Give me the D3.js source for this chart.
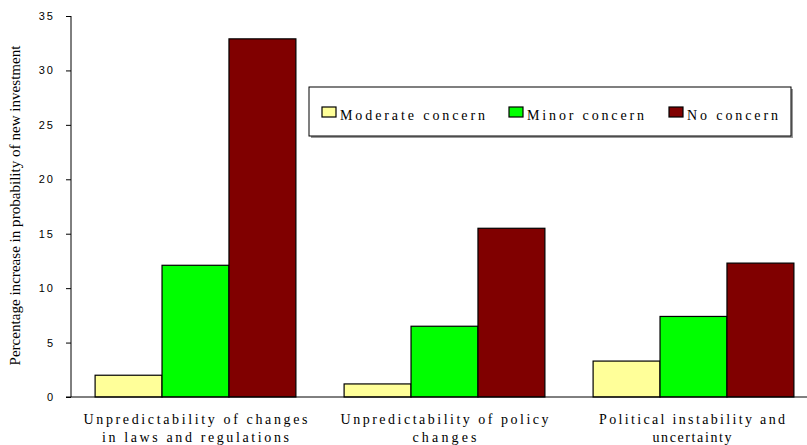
<!DOCTYPE html>
<html>
<head>
<meta charset="utf-8">
<script src="https://cdn.jsdelivr.net/npm/d3@7"></script>
<style>
  body { margin: 0; background: #fff; }
  svg { display: block; }
</style>
</head>
<body>
<div id="canvas"></div>
<script>
"use strict"

/* Data */
let categories = [
    ["Unpredictability of changes", "in laws and regulations"],
    ["Unpredictability of policy", "changes"],
    ["Political instability and", "uncertainty"]
];
let seriesNames = ["Moderate concern", "Minor concern", "No concern"];
let moderate = [2.0, 1.2, 3.3];
let minor = [12.1, 6.5, 7.4];
let noConcern = [32.9, 15.5, 12.3];
let yTicks = [0, 5, 10, 15, 20, 25, 30, 35];

let seriesValues = [moderate, minor, noConcern];
let colors = ["#ffff99", "#00ff00", "#800000"];

/* Drawing config */
let svgWidth = 807;
let svgHeight = 445;
let plotLeft = 71;
let plotRight = 818;
let plotTop = 16;
let plotBottom = 397;

let svg = d3.select("#canvas")
    .append("svg")
    .attr("width", svgWidth)
    .attr("height", svgHeight);

/* Scales */
let xScale = d3.scaleBand()
    .domain(d3.range(categories.length))
    .range([plotLeft, plotRight]);

let innerScale = d3.scaleBand()
    .domain(d3.range(seriesNames.length))
    .range([0, xScale.bandwidth()])
    .paddingOuter(0.36)
    .paddingInner(0);

let yScale = d3.scaleLinear()
    .domain([0, 35])
    .range([plotBottom, plotTop]);

/* Bars */
let groups = svg.selectAll("g.group")
    .data(categories)
    .join("g")
    .attr("class", "group")
    .attr("transform", (d, i) => "translate(" + xScale(i) + ",0)");

groups.selectAll("rect")
    .data((d, i) => seriesValues.map((vals, s) => ({s: s, v: vals[i]})))
    .join("rect")
    .attr("x", d => innerScale(d.s))
    .attr("y", d => yScale(d.v))
    .attr("width", innerScale.bandwidth())
    .attr("height", d => yScale(0) - yScale(d.v))
    .attr("fill", d => colors[d.s])
    .attr("stroke", "#000")
    .attr("stroke-width", 1.2);

/* Y axis */
let yAxis = d3.axisLeft(yScale)
    .tickValues(yTicks)
    .tickSize(5)
    .tickPadding(11)
    .tickFormat(d3.format("d"));

let yAxisG = svg.append("g")
    .attr("transform", "translate(" + plotLeft + ",0)")
    .call(yAxis);
yAxisG.select(".domain").attr("d", "M0," + plotTop + "V" + plotBottom);
yAxisG.selectAll("text")
    .attr("font-family", "'Liberation Sans', Arial, sans-serif")
    .attr("font-size", 11)
    .attr("letter-spacing", 2)
    .attr("fill", "#000");

/* X axis line */
svg.append("line")
    .attr("x1", plotLeft - 5)
    .attr("x2", svgWidth)
    .attr("y1", plotBottom)
    .attr("y2", plotBottom)
    .attr("stroke", "#000")
    .attr("stroke-width", 1);

/* Category labels */
let labelWidths = [[224, 187], [208, 64], [186, 79]];
categories.forEach(function (lines, i) {
    let center = xScale(i) + xScale.bandwidth() / 2;
    let maxW = d3.max(labelWidths[i]);
    center = Math.min(center, 785 - maxW / 2);
    lines.forEach(function (line, j) {
        svg.append("text")
            .attr("x", center)
            .attr("y", 424 + j * 18)
            .attr("text-anchor", "middle")
            .attr("font-family", "'Liberation Serif', 'Times New Roman', serif")
            .attr("font-size", 14)
            .attr("textLength", labelWidths[i][j])
            .attr("lengthAdjust", "spacing")
            .text(line);
    });
});

/* Y axis title */
svg.append("text")
    .attr("transform", "translate(20," + ((plotTop + plotBottom) / 2 - 1) + ") rotate(-90)")
    .attr("text-anchor", "middle")
    .attr("font-family", "'Liberation Serif', 'Times New Roman', serif")
    .attr("font-size", 14.5)
    .attr("textLength", 320)
    .attr("lengthAdjust", "spacingAndGlyphs")
    .text("Percentage increase in probability of new investment");

/* Legend */
let legendX = 309;
let legendY = 87;
let legendW = 482;
let legendH = 49;

svg.append("rect")
    .attr("x", legendX + 2)
    .attr("y", legendY + 2)
    .attr("width", legendW)
    .attr("height", legendH)
    .attr("fill", "#999");
svg.append("rect")
    .attr("x", legendX)
    .attr("y", legendY)
    .attr("width", legendW)
    .attr("height", legendH)
    .attr("fill", "#fff")
    .attr("stroke", "#000")
    .attr("stroke-width", 1);

let legendItemX = [322, 509, 669];
let legendTextW = [145, 117, 91];
seriesNames.forEach(function (name, i) {
    svg.append("rect")
        .attr("x", legendItemX[i])
        .attr("y", legendY + 20)
        .attr("width", 14)
        .attr("height", 10)
        .attr("fill", colors[i])
        .attr("stroke", "#000")
        .attr("stroke-width", 1.2);
    svg.append("text")
        .attr("x", legendItemX[i] + 18)
        .attr("y", legendY + 33)
        .attr("font-family", "'Liberation Serif', 'Times New Roman', serif")
        .attr("font-size", 14)
        .attr("textLength", legendTextW[i])
        .attr("lengthAdjust", "spacing")
        .text(name);
});
</script>
</body>
</html>
